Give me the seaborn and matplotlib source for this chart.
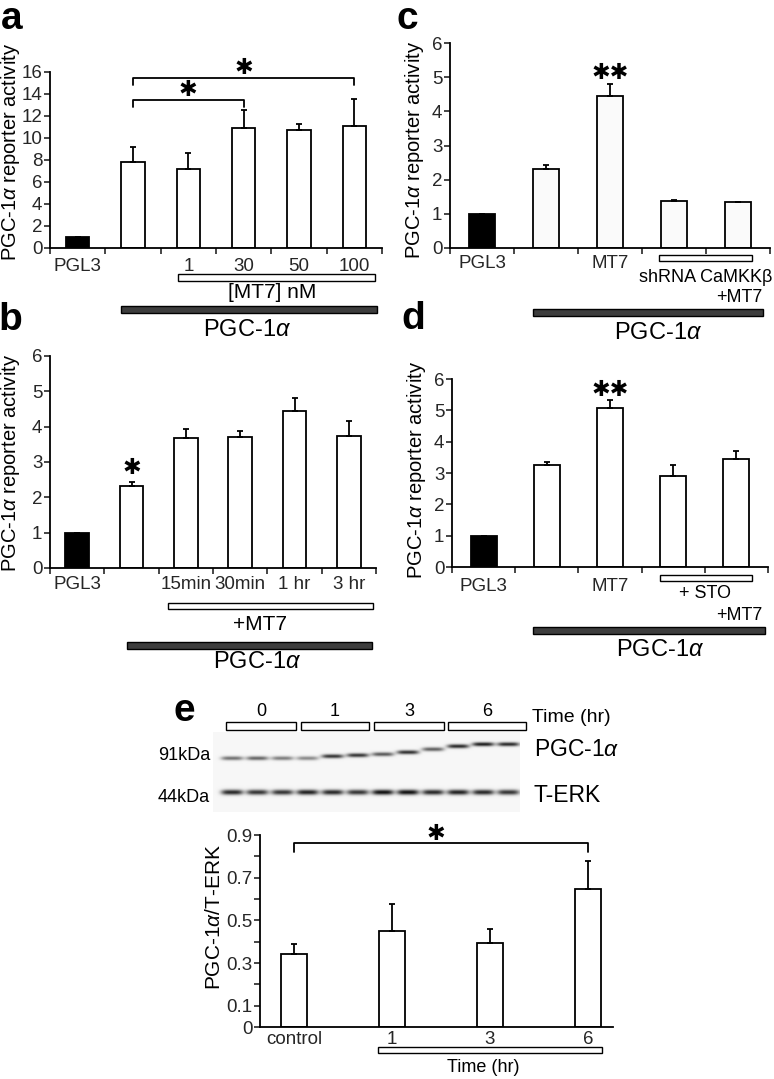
import numpy as np
import pandas as pd
import matplotlib
matplotlib.use('Agg')
import matplotlib.pyplot as plt
import seaborn as sns
from matplotlib.patches import Rectangle

sns.set_theme(style='ticks')
plt.rcParams['font.family'] = ['Liberation Sans', 'DejaVu Sans']
plt.rcParams['mathtext.fontset'] = 'custom'
plt.rcParams['mathtext.rm'] = 'Liberation Sans'
plt.rcParams['mathtext.it'] = 'Liberation Sans:italic'
plt.rcParams['mathtext.bf'] = 'Liberation Sans:bold'

# ---------------- data ----------------
a_cats = ['PGL3', 'PGC', '1', '30', '50', '100']
a_labels = ['PGL3', '', '1', '30', '50', '100']
a_vals = [1.0, 7.79, 7.18, 10.94, 10.73, 11.09]
a_errs = [0.0, 1.42, 1.49, 1.61, 0.54, 2.43]

b_cats = ['PGL3', 'PGC', '15min', '30min', '1 hr', '3 hr']
b_labels = ['PGL3', '', '15min', '30min', '1 hr', '3 hr']
b_vals = [1.0, 2.32, 3.67, 3.70, 4.44, 3.75]
b_errs = [0.0, 0.12, 0.26, 0.19, 0.36, 0.41]

c_cats = ['PGL3', 'PGC', 'MT7', 'shRNA', 'shRNA+MT7']
c_labels = ['PGL3', '', 'MT7', '', '']
c_vals = [1.0, 2.31, 4.45, 1.38, 1.34]
c_errs = [0.0, 0.12, 0.35, 0.03, 0.02]

d_cats = ['PGL3', 'PGC', 'MT7', 'STO', 'STO+MT7']
d_labels = ['PGL3', '', 'MT7', '', '']
d_vals = [1.0, 3.26, 5.06, 2.90, 3.45]
d_errs = [0.0, 0.10, 0.27, 0.36, 0.25]

e_cats = ['control', '1', '3', '6']
e_vals = [0.342, 0.452, 0.395, 0.646]
e_errs = [0.046, 0.123, 0.066, 0.134]

# western blot band readings (12 lanes: 0,1,3,6 hr x 3)
blot_groups = ['0', '1', '3', '6']
pgc_int = [0.55, 0.60, 0.50, 0.45, 0.80, 0.80, 0.65, 0.82, 0.62, 0.85, 0.90, 0.85]
pgc_pos = [758, 758, 758, 758, 756, 755, 754, 752, 749, 746, 744, 744]
erk_int = [0.85, 0.80, 0.80, 0.88, 0.85, 0.80, 0.95, 0.95, 0.85, 0.88, 0.85, 0.80]
erk_pos = 792

# ---------------- figure ----------------
W, H = 774, 1079
fig = plt.figure(figsize=(W / 100, H / 100), dpi=100)
fig.patch.set_facecolor('white')


def box(x0, y0, x1, y1):
    return [x0 / W, 1 - y1 / H, (x1 - x0) / W, (y1 - y0) / H]


LW = 1.3
TICK = 13.5


def bar_panel(rect, cats, labels, vals, errs, colors, width, ylim, yticks,
              yticklabels=None, pad=6, xlim=None, minor=True):
    ax = fig.add_axes(box(*rect))
    df = pd.DataFrame({'cond': cats, 'val': vals})
    sns.barplot(data=df, x='cond', y='val', hue='cond', order=cats, hue_order=cats,
                palette=dict(zip(cats, colors)), legend=False, width=width,
                edgecolor='black', linewidth=LW, errorbar=None, saturation=1, ax=ax)
    x = np.arange(len(cats))
    ax.errorbar(x, vals, yerr=[np.zeros(len(vals)), errs], fmt='none', ecolor='black',
                elinewidth=LW, capsize=2.5, capthick=LW, zorder=3)
    n = len(cats)
    ax.set_xlim(*(xlim if xlim else (-0.5, n - 0.5)))
    ax.set_ylim(*ylim)
    ax.set_xticks(x)
    ax.set_xticklabels(labels, fontsize=TICK)
    ax.tick_params(axis='x', which='major', length=0, pad=pad)
    if minor:
        ax.set_xticks(np.arange(-0.5, n), minor=True)
        ax.tick_params(axis='x', which='minor', length=4, width=1.2, direction='out')
    ax.set_yticks(yticks)
    if yticklabels is not None:
        ax.set_yticklabels(yticklabels)
    ax.tick_params(axis='y', length=4, width=1.2, labelsize=TICK, pad=1.5, direction='out')
    ax.set_xlabel('')
    ax.set_ylabel('')
    for s in ['top', 'right']:
        ax.spines[s].set_visible(False)
    for s in ['left', 'bottom']:
        ax.spines[s].set_linewidth(LW)
        ax.spines[s].set_color('black')
    ax.set_facecolor('none')
    return ax


def bracket(ax, x0, x1, ylo, yhi):
    ax.plot([x0, x0, x1, x1], [ylo, yhi, yhi, ylo], color='black', lw=LW, clip_on=False)


STAR = dict(ha='center', va='center', fontsize=16, family=['DejaVu Sans'], color='black')

# panel a
ax_a = bar_panel((50, 72, 382, 248), a_cats, a_labels, a_vals, a_errs,
                 ['black'] + ['white'] * 5, 0.42, (0, 16), np.arange(0, 17, 2), pad=7)
bracket(ax_a, 1, 3, 12.8, 13.5)
bracket(ax_a, 1, 5, 14.8, 15.5)
ax_a.text(2, 14.4, '\u2731', **STAR)
ax_a.text(3, 16.4, '\u2731', **STAR)

# panel b
ax_b = bar_panel((50, 356, 376, 568), b_cats, b_labels, b_vals, b_errs,
                 ['black'] + ['white'] * 5, 0.43, (0, 6), np.arange(0, 7, 1), pad=6)
ax_b.text(1, 2.83, '\u2731', **STAR)

# panel c
ax_c = bar_panel((450, 43, 770, 248), c_cats, c_labels, c_vals, c_errs,
                 ['black'] + ['#fafafa'] * 4, 0.40, (0, 6), np.arange(0, 7, 1), pad=5)
ax_c.text(2, 5.12, '\u2731\u2731', **STAR)

# panel d
ax_d = bar_panel((452, 379, 768, 567), d_cats, d_labels, d_vals, d_errs,
                 ['black'] + ['white'] * 4, 0.41, (0, 6), np.arange(0, 7, 1), pad=8)
ax_d.text(2, 5.65, '\u2731\u2731', **STAR)

# panel e (quantification)
ax_e = bar_panel((260, 835, 613, 1027), e_cats, e_cats, e_vals, e_errs,
                 ['white'] * 4, 0.265, (0, 0.9), [0, 0.1, 0.3, 0.5, 0.7, 0.9],
                 yticklabels=['0', '0.1', '0.3', '0.5', '0.7', '0.9'], pad=3,
                 xlim=(-0.347, 3.255), minor=False)
ax_e.set_yticks(np.arange(0, 0.91, 0.1), minor=True)
ax_e.tick_params(axis='y', which='minor', length=4, width=1.2, direction='out')
bracket(ax_e, 0, 3, 0.82, 0.862)
ax_e.text(1.45, 0.905, '\u2731', **STAR)

# blot image
bx0, bx1, by0, by1 = 213, 520, 732, 812
ax_bl = fig.add_axes(box(bx0, by0, bx1, by1))
cols = np.arange(bx0, bx1, 0.5)
rows = np.arange(by0, by1, 0.5)
X, Y = np.meshgrid(cols, rows)
img = np.full(X.shape, 0.035)
lane_x0, lane_step = 232, 25.1
for i in range(12):
    xc = lane_x0 + lane_step * i
    hx = np.exp(-((X - xc) / 11.0) ** 4)
    img += pgc_int[i] * hx * np.exp(-((Y - pgc_pos[i]) / 2.0) ** 2)
    img += erk_int[i] * hx * np.exp(-((Y - erk_pos) / 2.6) ** 2)
ax_bl.imshow(np.clip(img, 0, 1), cmap='gray_r', vmin=0, vmax=1.05,
             extent=[bx0, bx1, by1, by0], aspect='auto', interpolation='bilinear')
ax_bl.set_xlim(bx0, bx1)
ax_bl.set_ylim(by1, by0)
ax_bl.axis('off')

# ---------------- overlay annotations (pixel coordinates) ----------------
ov = fig.add_axes([0, 0, 1, 1])
ov.set_xlim(0, W)
ov.set_ylim(H, 0)
ov.axis('off')


def rect(x0, y0, x1, y1, fc):
    ov.add_patch(Rectangle((x0, y0), x1 - x0, y1 - y0, facecolor=fc,
                           edgecolor='black', lw=1.0))


def txt(x, y, s, size, ha='center', va='center', **kw):
    ov.text(x, y, s, fontsize=size, ha=ha, va=va, color='black', **kw)


PGC = r'PGC-1$\alpha$'
DARK = '#3d3d3d'

# panel letters
txt(12, 1, 'a', 28, weight='bold', va='top')
txt(10, 320, 'b', 28, weight='bold')
txt(407, 1, 'c', 28, weight='bold', va='top')
txt(413, 319, 'd', 28, weight='bold')
txt(184, 711, 'e', 28, weight='bold')

# y labels
ylab = PGC + ' reporter activity'
txt(11, 152, ylab, 14.5, rotation=90)
txt(11, 463, ylab, 14.5, rotation=90)
txt(415, 150, ylab, 14.5, rotation=90)
txt(416, 470, ylab, 14.5, rotation=90)
txt(214, 917, PGC + '/T-ERK', 15, rotation=90)

# panel a annotations
rect(178, 274, 375, 281, 'white')
txt(272, 293, '[MT7] nM', 15)
rect(121, 306, 377, 313, DARK)
txt(247, 330, PGC, 17)

# panel b annotations
rect(168, 603, 373, 609, 'white')
txt(260, 625, '+MT7', 15)
rect(127, 642, 372, 649, DARK)
txt(257, 662, PGC, 17)

# panel c annotations
rect(659, 255, 752, 261, 'white')
txt(706, 278, 'shRNA CaMKK\u03b2', 13)
txt(762, 297, '+MT7', 13, ha='right')
rect(533, 309, 763, 316, DARK)
txt(658, 333, PGC, 17)

# panel d annotations
rect(660, 575, 752, 581, 'white')
txt(705, 594, '+ STO', 13)
txt(762, 615, '+MT7', 13, ha='right')
rect(533, 627, 765, 634, DARK)
txt(660, 650, PGC, 17)

# panel e blot annotations
boxes = [(226, 296), (301, 369), (374, 444), (448, 526)]
for (x0, x1), g in zip(boxes, blot_groups):
    rect(x0, 722, x1, 730, 'white')
    txt((x0 + x1) / 2, 711, g, 13)
txt(532, 718, 'Time (hr)', 14, ha='left')
txt(534, 750, PGC, 16.5, ha='left')
txt(534, 796, 'T-ERK', 16.5, ha='left')
txt(210, 756, '91kDa', 13, ha='right')
txt(210, 797, '44kDa', 13, ha='right')

# panel e bottom annotations
rect(378, 1047, 602, 1053, 'white')
txt(483, 1067, 'Time (hr)', 13)

fig.savefig('out.png', dpi=100, facecolor='white')
